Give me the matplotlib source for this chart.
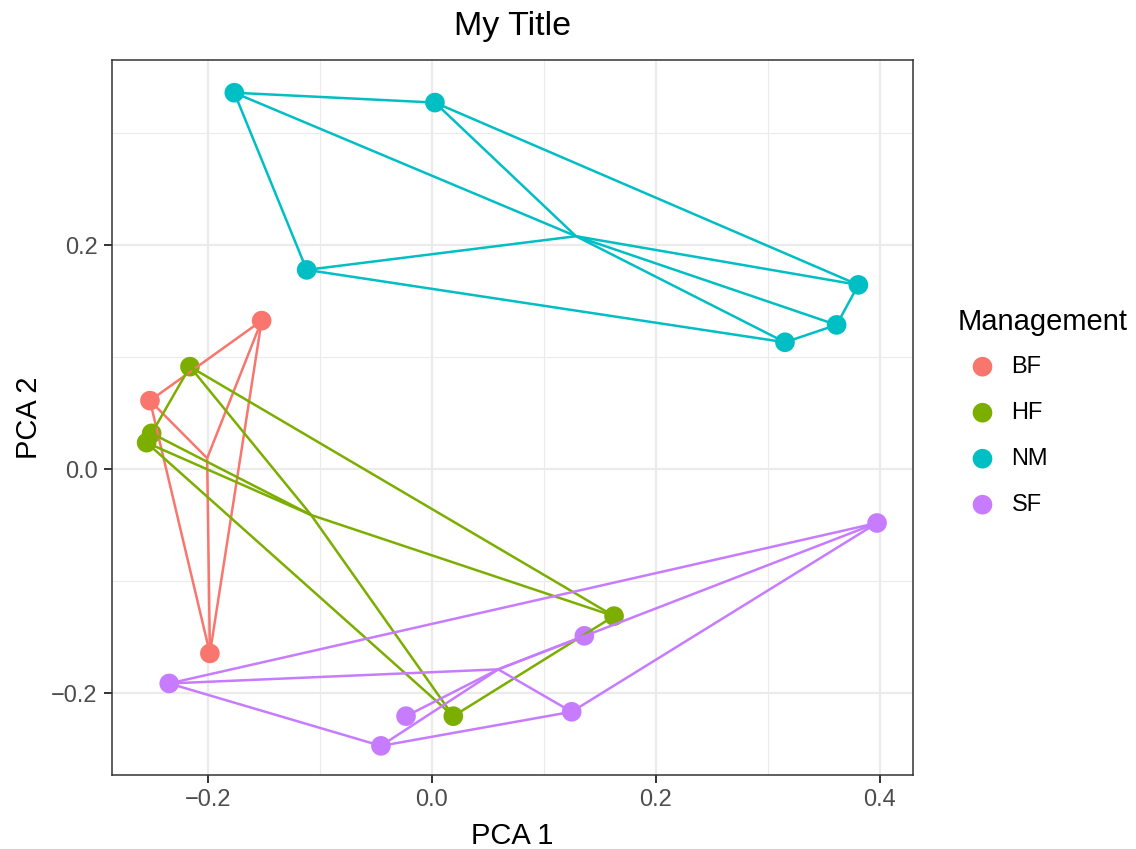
import numpy as np
import matplotlib
matplotlib.use("Agg")
import matplotlib.pyplot as plt

plt.rcParams['font.family'] = ['Liberation Sans', 'DejaVu Sans']

# ---- data ----
groups = ["BF", "HF", "NM", "SF"]
colors = ["#F8766D", "#7CAE00", "#00BFC4", "#C77CFF"]

bf_x = [-0.2515, -0.1518, -0.1980]
bf_y = [0.0612, 0.1326, -0.1644]
hf_x = [-0.2158, -0.2500, -0.2545, 0.1628, 0.0193]
hf_y = [0.0915, 0.0320, 0.0237, -0.1311, -0.2204]
nm_x = [-0.1762, 0.0029, -0.1116, 0.3809, 0.3615, 0.3154]
nm_y = [0.3360, 0.3272, 0.1779, 0.1645, 0.1288, 0.1133]
sf_x = [-0.2343, -0.0453, -0.0229, 0.1250, 0.1363, 0.3976]
sf_y = [-0.1912, -0.2469, -0.2204, -0.2165, -0.1487, -0.0480]

xs = [bf_x, hf_x, nm_x, sf_x]
ys = [bf_y, hf_y, nm_y, sf_y]

x_ticks = [-0.2, 0.0, 0.2, 0.4]
y_ticks = [-0.2, 0.0, 0.2]
x_minor = [-0.1, 0.1, 0.3]
y_minor = [-0.1, 0.1, 0.3]


def convex_hull(px, py):
    pts = sorted(set(zip(px, py)))
    if len(pts) <= 2:
        return pts

    def cross(o, a, b):
        return (a[0] - o[0]) * (b[1] - o[1]) - (a[1] - o[1]) * (b[0] - o[0])

    lower = []
    for p in pts:
        while len(lower) >= 2 and cross(lower[-2], lower[-1], p) <= 0:
            lower.pop()
        lower.append(p)
    upper = []
    for p in reversed(pts):
        while len(upper) >= 2 and cross(upper[-2], upper[-1], p) <= 0:
            upper.pop()
        upper.append(p)
    return lower[:-1] + upper[:-1]


def fmt(v):
    return f"{v:.1f}".replace("-", "\u2212")


W, H = 1136, 849
fig = plt.figure(figsize=(W / 100, H / 100), dpi=100)
L, R, T, B = 112, 913, 60, 775
ax = fig.add_axes([L / W, 1 - B / H, (R - L) / W, (B - T) / H])

ax.set_xlim(-0.2854, 0.4297)
ax.set_ylim(-0.2729, 0.3652)

# grid
for v in x_minor:
    ax.axvline(v, color="#EBEBEB", lw=0.8, zorder=0)
for v in y_minor:
    ax.axhline(v, color="#EBEBEB", lw=0.8, zorder=0)
for v in x_ticks:
    ax.axvline(v, color="#EBEBEB", lw=1.6, zorder=0)
for v in y_ticks:
    ax.axhline(v, color="#EBEBEB", lw=1.6, zorder=0)

# points
for gx, gy, c in zip(xs, ys, colors):
    ax.scatter(gx, gy, s=200, color=c, edgecolors="none", zorder=2)

# hulls and spiders
for gx, gy, c in zip(xs, ys, colors):
    hull = convex_hull(gx, gy)
    hx = [p[0] for p in hull] + [hull[0][0]]
    hy = [p[1] for p in hull] + [hull[0][1]]
    ax.plot(hx, hy, color=c, lw=1.8, zorder=3, solid_capstyle="butt")
    cx, cy = np.mean(gx), np.mean(gy)
    for px_, py_ in zip(gx, gy):
        ax.plot([cx, px_], [cy, py_], color=c, lw=1.8, zorder=3,
                solid_capstyle="butt")

ax.set_xticks(x_ticks)
ax.set_yticks(y_ticks)
ax.set_xticklabels([fmt(v) for v in x_ticks])
ax.set_yticklabels([fmt(v) for v in y_ticks])
ax.tick_params(axis="both", length=5.5, width=1.4, color="#333333",
               labelcolor="#4D4D4D", labelsize=17)
ax.tick_params(axis="x", pad=4.5)
ax.tick_params(axis="y", pad=5)
for s in ax.spines.values():
    s.set_color("#333333")
    s.set_linewidth(1.1)

ax.set_title("My Title", fontsize=24.5, pad=18)

# axis titles (pixel layout)
lax = fig.add_axes([0, 0, 1, 1], facecolor="none")
lax.set_xlim(0, W)
lax.set_ylim(H, 0)
lax.axis("off")
lax.text(512.5, 844, "PCA 1", fontsize=21, ha="center", va="baseline")
lax.text(36.7, 418, "PCA 2", fontsize=21, ha="center", va="baseline",
         rotation=90, rotation_mode="anchor")

# legend (manual, pixel layout)
lax.text(958, 322, "Management", fontsize=21, va="center", ha="left")
for i, (g, c) in enumerate(zip(groups, colors)):
    yy = 366.7 + 46 * i
    lax.scatter([982.5], [yy], s=200, color=c, edgecolors="none")
    lax.text(1011.5, yy, g, fontsize=17, va="center", ha="left")

fig.savefig("out.png", dpi=100)
